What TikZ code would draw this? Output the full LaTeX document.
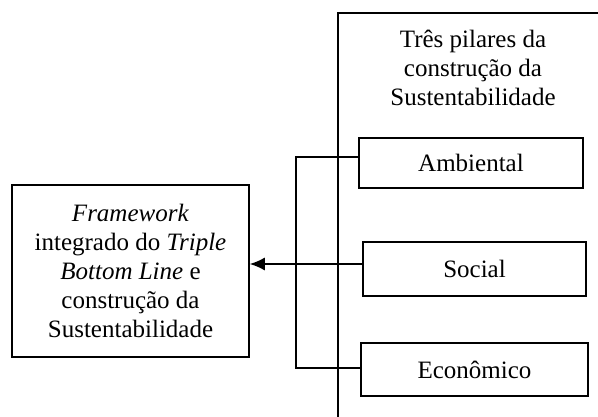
\documentclass[tikz,border=0pt]{standalone}
\usepackage{fontspec}
\setmainfont{Liberation Serif}
\usetikzlibrary{arrows.meta,calc}
\begin{document}
\begin{tikzpicture}[x=1pt,y=-1pt,
  every node/.style={font=\fontsize{25}{29}\selectfont},
  box/.style={draw,line width=1.5pt,rectangle,inner sep=0pt,align=center},
  conn/.style={line width=1.5pt},
  arr/.style={conn,-{Latex[length=15pt,width=13pt]}}]
\useasboundingbox (0,0) rectangle (598,417);
\fill[white] (0,0) rectangle (598,417);
% left box
\node[box,minimum width=237pt,minimum height=172pt] (left) at (130.5,271) {\textit{Framework}\\integrado do \textit{Triple}\\\textit{Bottom Line} e\\construção da\\Sustentabilidade};
% outer open frame
\coordinate (fbot) at (338,417);
\coordinate (ftop) at (338,13);
\coordinate (fright) at (598,13);
\draw[conn] (fbot) -- (ftop) -- (fright);
\node[align=center] (title) at (473,68) {Três pilares da\\construção da\\Sustentabilidade};
% pillar boxes
\node[box,minimum width=224pt,minimum height=50pt] (amb) at (471,163) {Ambiental};
\node[box,minimum width=223pt,minimum height=54pt] (soc) at (474.5,269) {Social};
\node[box,minimum width=227pt,minimum height=53pt] (eco) at (474.5,369.5) {Econômico};
% bus
\coordinate (bt) at (296,157);
\coordinate (bb) at (296,368);
\draw[conn] ($(amb.west)+(0,-6)$) -- (bt) -- (bb) -- ($(eco.west)+(0,-1.5)$);
\draw[arr] ($(soc.west)+(0,-5)$) -- ($(left.east)+(0,-7)$);
\end{tikzpicture}
\end{document}
